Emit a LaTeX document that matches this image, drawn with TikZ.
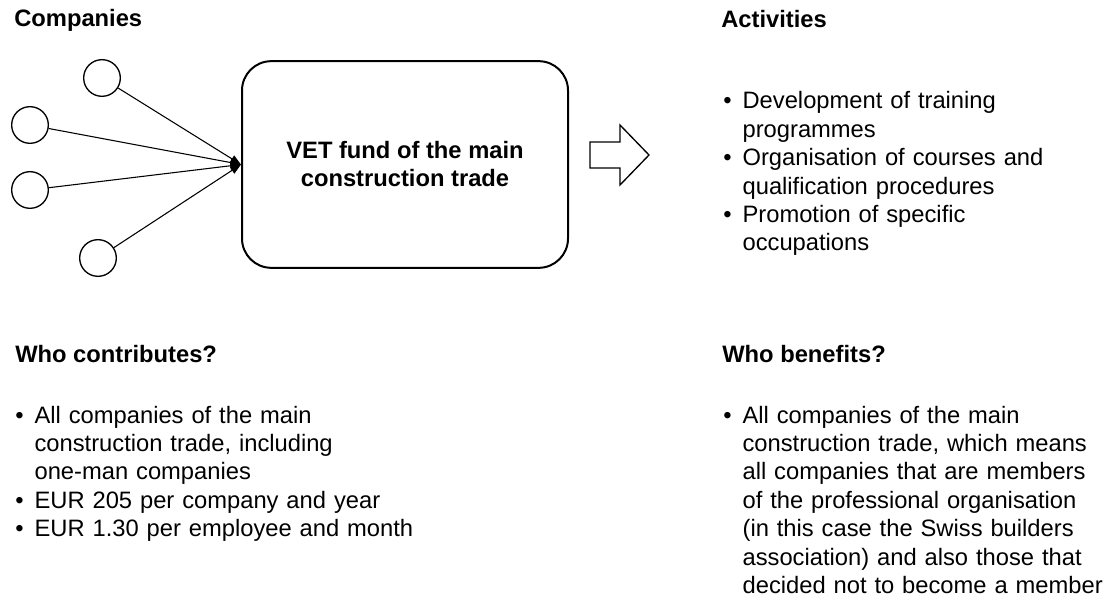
\documentclass[tikz,border=0pt]{standalone}
\usepackage{fontspec}
\setmainfont{Liberation Sans}
\usetikzlibrary{arrows.meta,positioning}

\tikzset{
  company/.style={draw,line width=1pt,circle,minimum size=27.5pt,inner sep=0pt},
  fundbox/.style={draw,line width=1.5pt,rounded corners=22pt,minimum width=244.5pt,
    minimum height=155pt,align=center,font=\bfseries\fontsize{17.8}{21}\selectfont},
  heading/.style={anchor=base west,inner sep=0pt,font=\bfseries\fontsize{17.8}{21}\selectfont},
  bullets/.style={anchor=base west,inner sep=0pt,text width=#1,
    font=\fontsize{17.8}{21.3}\selectfont\raggedright},
  feed/.style={line width=0.8pt,-{Triangle[length=8pt,width=6pt]}}
}
\newcommand{\fitm}{\hangindent=14.5pt\hangafter=1\noindent\makebox[14.5pt][l]{•}}
\newcommand{\itm}{\par\fitm}

\begin{document}
\begin{tikzpicture}[x=0.75pt,y=-0.75pt]
  \useasboundingbox (0,0) rectangle (1106,598);

  % companies feeding the fund
  \node[heading] (hcomp) at (14,27) {Companies};
  \node[company] (c1) at (102,78) {};
  \node[company] (c2) at (30,125) {};
  \node[company] (c3) at (30,190) {};
  \node[company] (c4) at (98,258) {};

  \node[fundbox] (fund) at (405,164.5) {VET fund of the main\\construction trade};

  \foreach \c in {c1,c2,c3,c4}
    \draw[feed] (\c) -- (fund.west);

  % block arrow
  \draw[line width=1pt,line join=miter]
    (590,142) -- (620,142) -- (620,125) -- (649,155) -- (620,185) -- (620,168) -- (590,168) -- cycle;

  % activities
  \node[heading] (hact) at (721,28) {Activities};
  \node[bullets=285pt] (act) at (723,109) {%
    \fitm Development of training\newline programmes
    \itm Organisation of courses and\newline qualification procedures
    \itm Promotion of specific\newline occupations\par};

  % who contributes
  \node[heading] (hcontr) at (15,363) {Who contributes?};
  \node[bullets=330pt] (contr) at (15,423) {%
    \fitm All companies of the main\newline construction trade, including\newline one-man companies
    \itm EUR 205 per company and year
    \itm EUR 1.30 per employee and month\par};

  % who benefits
  \node[heading] (hben) at (722,363) {Who benefits?};
  \node[bullets=285pt] (ben) at (723,423) {%
    \fitm All companies of the main\newline construction trade, which means\newline
    all companies that are members\newline of the professional organisation\newline
    (in this case the Swiss builders\newline association) and also those that\newline
    decided not to become a member\par};
\end{tikzpicture}
\end{document}
